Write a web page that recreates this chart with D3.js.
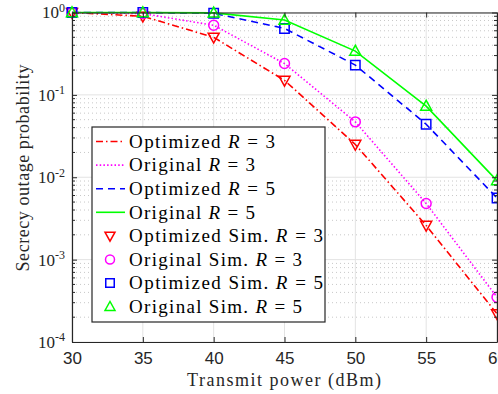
<!DOCTYPE html>
<html lang="en">
<head>
<meta charset="utf-8">
<title>Secrecy outage probability</title>
<script src="https://cdn.jsdelivr.net/npm/d3@7"></script>
<style>
  body { margin: 0; background: #fff; overflow: hidden; }
  svg { display: block; font-family: "Liberation Serif", "DejaVu Serif", serif; }
  .grid-major line { stroke: #e3e3e3; stroke-width: 1; }
  .grid-minor line { stroke: #c8c8c8; stroke-width: 1; stroke-dasharray: 1,3; }
  .axis path, .axis line { stroke: #262626; }
  .axis text { fill: #262626; font-size: 17px; }
</style>
</head>
<body>
<svg id="chart" width="498" height="394"></svg>
<script>
// transmit power (dBm)
var powers = [30, 35, 40, 45, 50, 55, 60];

// secrecy outage probability
var optimizedR3 = [1.0, 0.90, 0.50, 0.150, 0.025, 0.0026, 0.00022];
var originalR3  = [1.0, 0.97, 0.70, 0.240, 0.047, 0.0048, 0.00035];
var optimizedR5 = [1.0, 1.00, 0.98, 0.640, 0.230, 0.0440, 0.0056];
var originalR5  = [1.0, 1.00, 0.99, 0.810, 0.340, 0.0730, 0.0091];

var xTicks = [30, 35, 40, 45, 50, 55, 60];
var yDecades = [1e-4, 1e-3, 1e-2, 1e-1, 1];
var yExponents = ["-4", "-3", "-2", "-1", "0"];

var series = [
  { name: "Optimized", r: 3, values: optimizedR3, color: "#ff0000", dash: "7,3,1.5,3", marker: "tridown", w: 146, ws: 194 },
  { name: "Original",  r: 3, values: originalR3,  color: "#ff00ff", dash: "1.5,2.2",   marker: "circle",  w: 126, ws: 173 },
  { name: "Optimized", r: 5, values: optimizedR5, color: "#0000ff", dash: "7,5",       marker: "square",  w: 146, ws: 194 },
  { name: "Original",  r: 5, values: originalR5,  color: "#00ff00", dash: null,        marker: "triup",   w: 126, ws: 173 }
];

var svg = d3.select("#chart"),
    margin = { top: 12.5, right: 1, bottom: 52, left: 72 },
    W = 498, H = 394,
    width = W - margin.left - margin.right,
    height = H - margin.top - margin.bottom;

var g = svg.append("g").attr("transform", "translate(" + margin.left + "," + margin.top + ")");

var x = d3.scaleLinear().domain([30, 60]).range([0, width]);
var y = d3.scaleLog().domain([1e-4, 1]).range([height, 0]);

// minor decade values 2..9
var minors = [];
yDecades.slice(0, -1).forEach(function(d) {
  for (var k = 2; k <= 9; k++) minors.push(d * k);
});

// grid
g.append("g").attr("class", "grid-minor")
  .selectAll("line").data(minors).enter().append("line")
  .attr("x1", 0).attr("x2", width)
  .attr("y1", function(d) { return y(d); }).attr("y2", function(d) { return y(d); });

g.append("g").attr("class", "grid-major")
  .selectAll("line").data(yDecades).enter().append("line")
  .attr("x1", 0).attr("x2", width)
  .attr("y1", function(d) { return y(d); }).attr("y2", function(d) { return y(d); });

g.append("g").attr("class", "grid-major")
  .selectAll("line").data(xTicks).enter().append("line")
  .attr("y1", 0).attr("y2", height)
  .attr("x1", function(d) { return x(d); }).attr("x2", function(d) { return x(d); });

// lines
var line = d3.line()
  .x(function(d, i) { return x(powers[i]); })
  .y(function(d) { return y(d); });

series.forEach(function(s) {
  g.append("path")
    .datum(s.values)
    .attr("fill", "none")
    .attr("stroke", s.color)
    .attr("stroke-width", 1.6)
    .attr("stroke-dasharray", s.dash)
    .attr("d", line);
});

function markerPath(type, size) {
  var h = size / 2;
  if (type === "tridown") return "M" + (-h) + "," + (-h * 0.75) + "L" + h + "," + (-h * 0.75) + "L0," + (h * 1.05) + "Z";
  if (type === "triup") return "M" + (-h) + "," + (h * 0.75) + "L" + h + "," + (h * 0.75) + "L0," + (-h * 1.05) + "Z";
  if (type === "square") return "M" + (-h * 0.85) + "," + (-h * 0.85) + "h" + (h * 1.7) + "v" + (h * 1.7) + "h" + (-h * 1.7) + "Z";
  var r = h * 0.9;
  return "M" + r + ",0A" + r + "," + r + " 0 1,1 " + (-r) + ",0A" + r + "," + r + " 0 1,1 " + r + ",0Z";
}

// simulation markers
series.forEach(function(s) {
  g.append("g").selectAll("path").data(s.values).enter().append("path")
    .attr("transform", function(d, i) { return "translate(" + x(powers[i]) + "," + y(d) + ")"; })
    .attr("d", markerPath(s.marker, 11))
    .attr("fill", "none")
    .attr("stroke", s.color)
    .attr("stroke-width", 1.5);
});

// axes
var xAxis = g.append("g").attr("class", "axis")
  .attr("transform", "translate(0," + height + ")")
  .call(d3.axisBottom(x).tickValues(xTicks).tickSizeInner(-5).tickSizeOuter(0).tickPadding(10));
xAxis.select(".domain").attr("stroke-width", 1.2);

g.append("g").attr("class", "axis")
  .call(d3.axisTop(x).tickValues(xTicks).tickSizeInner(-5).tickSizeOuter(0).tickFormat(""))
  .select(".domain").attr("stroke-width", 1.2);

var yAxis = g.append("g").attr("class", "axis")
  .call(d3.axisLeft(y).tickValues(yDecades).tickSizeInner(-5).tickSizeOuter(0).tickFormat(""));
yAxis.select(".domain").attr("stroke-width", 1.2);

g.append("g").attr("class", "axis")
  .attr("transform", "translate(" + width + ",0)")
  .call(d3.axisRight(y).tickValues(yDecades).tickSizeInner(-5).tickSizeOuter(0).tickFormat(""))
  .select(".domain").attr("stroke-width", 1.2);

// minor ticks left and right
[0, width].forEach(function(px) {
  var dir = px === 0 ? 1 : -1;
  g.append("g").selectAll("line").data(minors).enter().append("line")
    .attr("x1", px).attr("x2", px + dir * 3)
    .attr("y1", function(d) { return y(d); }).attr("y2", function(d) { return y(d); })
    .attr("stroke", "#262626");
});

// y tick labels 10^k
var yLab = g.append("g").selectAll("text").data(yDecades).enter().append("text")
  .attr("x", -7).attr("y", function(d) { return y(d); })
  .attr("dy", "0.35em")
  .attr("text-anchor", "end")
  .attr("fill", "#262626")
  .style("font-size", "17px");
yLab.append("tspan").text("10");
yLab.append("tspan")
  .attr("dy", "-0.55em")
  .style("font-size", "12px")
  .text(function(d, i) { return yExponents[i]; });

// axis titles
svg.append("text")
  .attr("x", 284).attr("y", 386)
  .attr("text-anchor", "middle")
  .attr("textLength", 194).attr("lengthAdjust", "spacing")
  .attr("fill", "#262626")
  .style("font-size", "18px")
  .text("Transmit power (dBm)");

svg.append("text")
  .attr("transform", "translate(29,168) rotate(-90)")
  .attr("text-anchor", "middle")
  .attr("textLength", 207).attr("lengthAdjust", "spacing")
  .attr("fill", "#262626")
  .style("font-size", "18px")
  .text("Secrecy outage probability");

// legend
var lg = svg.append("g").attr("transform", "translate(92,127)");
lg.append("rect")
  .attr("width", 233).attr("height", 195)
  .attr("fill", "#fff").attr("stroke", "#262626").attr("stroke-width", 1.2);

var rowH = 23.6, row0 = 14.5;
function addLabel(sel, name, r, len) {
  var t = sel.append("text")
    .attr("x", 37).attr("dy", "0.33em")
    .attr("textLength", len).attr("lengthAdjust", "spacing")
    .attr("fill", "#000")
    .style("font-size", "19px");
  t.append("tspan").text(name + " ");
  t.append("tspan").style("font-style", "italic").text("R");
  t.append("tspan").text(" = " + r);
}

series.forEach(function(s, i) {
  var row = lg.append("g").attr("transform", "translate(0," + (row0 + i * rowH) + ")");
  row.append("line")
    .attr("x1", 4).attr("x2", 33)
    .attr("stroke", s.color).attr("stroke-width", 1.6)
    .attr("stroke-dasharray", s.dash);
  addLabel(row, s.name, s.r, s.w);
});

series.forEach(function(s, i) {
  var row = lg.append("g").attr("transform", "translate(0," + (row0 + (i + 4) * rowH) + ")");
  row.append("path")
    .attr("transform", "translate(18,0)")
    .attr("d", markerPath(s.marker, 10))
    .attr("fill", "none").attr("stroke", s.color).attr("stroke-width", 1.5);
  addLabel(row, s.name + " Sim.", s.r, s.ws);
});
</script>
</body>
</html>
